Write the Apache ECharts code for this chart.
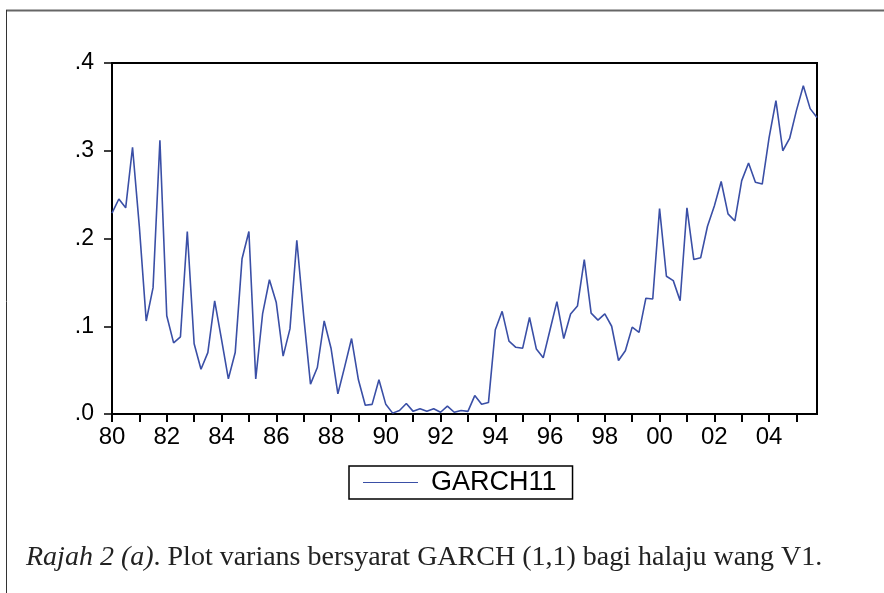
<!DOCTYPE html>
<html>
<head>
<meta charset="utf-8">
<title>GARCH11</title>
<script src="https://cdn.jsdelivr.net/npm/echarts@6/dist/echarts.min.js"></script>
<style>
  html, body { margin: 0; padding: 0; background: #fff; }
  #main { width: 884px; height: 593px; }
</style>
</head>
<body>
<div id="main"></div>
<script>
// data: quarterly, 1980Q1 .. 2005Q4
var startYear = 1980;
var endYear = 2005;
var quarters = ['Q1', 'Q2', 'Q3', 'Q4'];

var garch11 = [
  0.229, 0.245, 0.235, 0.304, 0.213, 0.106, 0.144, 0.312,
  0.112, 0.081, 0.088, 0.208, 0.080, 0.051, 0.070, 0.129,
  0.085, 0.040, 0.070, 0.177, 0.208, 0.040, 0.114, 0.153,
  0.127, 0.066, 0.097, 0.198, 0.112, 0.034, 0.053, 0.106,
  0.075, 0.023, 0.054, 0.086, 0.039, 0.010, 0.011, 0.039,
  0.011, 0.001, 0.004, 0.012, 0.003, 0.006, 0.003, 0.006,
  0.002, 0.009, 0.002, 0.004, 0.003, 0.021, 0.011, 0.013,
  0.096, 0.117, 0.083, 0.076, 0.075, 0.110, 0.074, 0.064,
  0.096, 0.128, 0.086, 0.114, 0.123, 0.176, 0.115, 0.107,
  0.114, 0.100, 0.061, 0.072, 0.099, 0.093, 0.132, 0.131,
  0.234, 0.157, 0.152, 0.129, 0.235, 0.176, 0.178, 0.214,
  0.237, 0.265, 0.228, 0.220, 0.266, 0.286, 0.264, 0.262,
  0.315, 0.357, 0.300, 0.314, 0.346, 0.374, 0.348, 0.338
];

var yTicks = ['.0', '.1', '.2', '.3', '.4'];
var caption = 'Plot varians bersyarat GARCH (1,1) bagi halaju wang V1.';

var periods = [];
for (var y = startYear; y <= endYear; y++) {
  for (var q = 0; q < 4; q++) periods.push(y + quarters[q]);
}

var chart = echarts.init(document.getElementById('main'));

var option = {
  backgroundColor: '#fff',
  animation: false,
  title: {
    left: 21,
    top: 539,
    text: '{i|Rajah 2 (a)}. ' + caption,
    textStyle: {
      fontFamily: 'Liberation Serif',
      fontSize: 28,
      fontWeight: 'normal',
      color: '#222',
      rich: {
        i: { fontFamily: 'Liberation Serif', fontSize: 28, fontStyle: 'italic', color: '#222' }
      }
    }
  },
  legend: {
    left: 349,
    top: 466,
    padding: [3, 16, 3, 14],
    borderColor: '#000',
    borderWidth: 1.5,
    icon: 'rect',
    itemWidth: 55,
    itemHeight: 1.2,
    textStyle: {
      fontFamily: 'Liberation Sans',
      fontSize: 27,
      color: '#000',
      padding: [0, 0, 0, 8]
    },
    data: ['GARCH11']
  },
  grid: {
    left: 112,
    right: 67,
    top: 63,
    bottom: 179,
    show: true,
    borderColor: '#000',
    borderWidth: 2
  },
  xAxis: {
    type: 'category',
    data: periods,
    boundaryGap: false,
    axisLine: { lineStyle: { color: '#000', width: 2 } },
    axisTick: {
      length: 8,
      lineStyle: { color: '#000', width: 2 },
      interval: function (i) { return i % 4 === 0; }
    },
    axisLabel: {
      margin: 11,
      color: '#000',
      fontFamily: 'Liberation Sans',
      fontSize: 24,
      interval: function (i) { return i % 8 === 0; },
      formatter: function (v) { return v.slice(2, 4); }
    },
    splitLine: { show: false }
  },
  yAxis: {
    type: 'value',
    min: 0,
    max: 0.4,
    interval: 0.1,
    axisLine: { show: true, lineStyle: { color: '#000', width: 2 } },
    axisTick: { show: true, length: 8, lineStyle: { color: '#000', width: 1.5 } },
    axisLabel: {
      margin: 18,
      color: '#000',
      fontFamily: 'Liberation Sans',
      fontSize: 23,
      formatter: function (v) { return yTicks[Math.round(v * 10)]; }
    },
    splitLine: { show: false }
  },
  series: [{
    name: 'GARCH11',
    type: 'line',
    data: garch11,
    symbol: 'none',
    lineStyle: { color: '#3a4fa6', width: 1.6 },
    itemStyle: { color: '#3a4fa6' }
  }],
  graphic: [
    { type: 'line', shape: { x1: 6, y1: 10.5, x2: 884, y2: 10.5 }, style: { stroke: '#666', lineWidth: 2 } },
    { type: 'line', shape: { x1: 6.5, y1: 10, x2: 6.5, y2: 593 }, style: { stroke: '#333', lineWidth: 1 } }
  ]
};

chart.setOption(option);
</script>
</body>
</html>
